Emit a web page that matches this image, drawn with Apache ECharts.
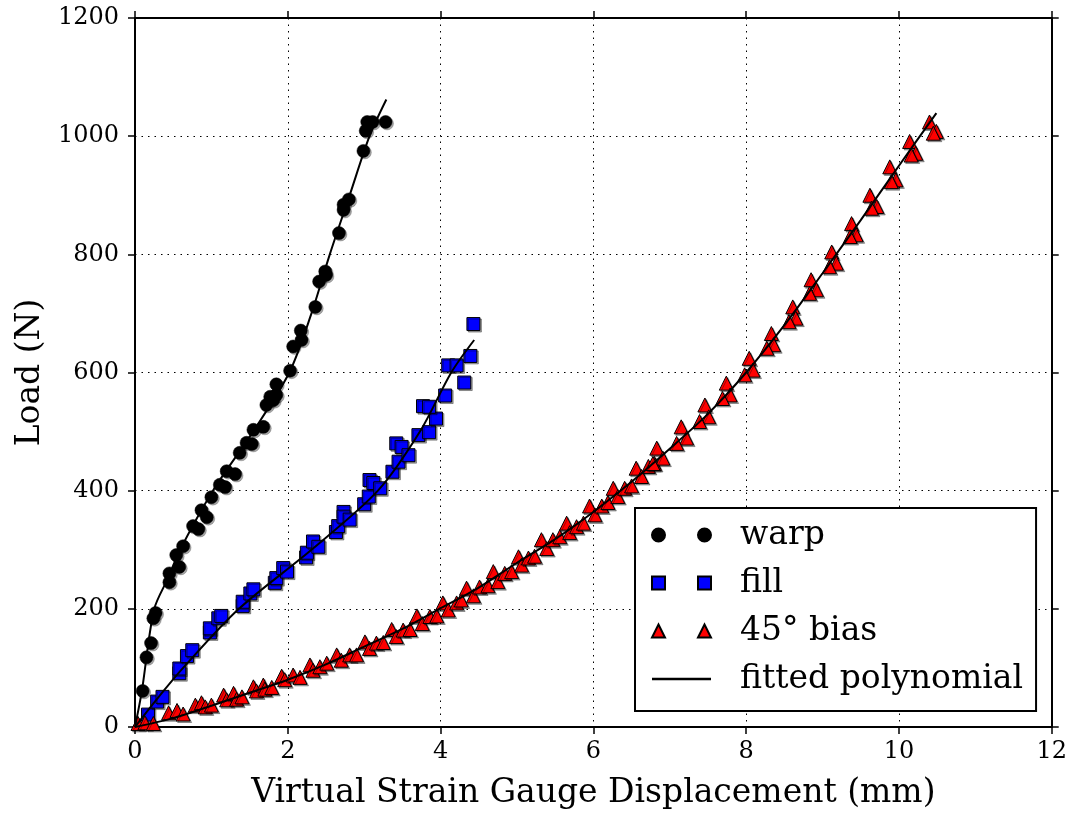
<!DOCTYPE html>
<html>
<head>
<meta charset="utf-8">
<script src="https://cdn.jsdelivr.net/npm/echarts@6/dist/echarts.min.js"></script>
<style>
html,body{margin:0;padding:0;background:#fff;}
#chart{width:1070px;height:815px;}
</style>
</head>
<body>
<div id="chart"></div>
<script>
// ---- data ----
const xTicks = [0, 2, 4, 6, 8, 10, 12];
const yTicks = [0, 200, 400, 600, 800, 1000, 1200];

const warpX = [0.10,0.15,0.21,0.24,0.27,0.45,0.45,0.58,0.54,0.63,0.76,0.83,0.87,0.94,1.00,1.11,1.18,1.20,1.31,1.37,1.46,1.53,1.55,1.68,1.72,1.81,1.77,1.85,1.85,2.03,2.07,2.18,2.17,2.36,2.41,2.49,2.50,2.67,2.73,2.73,2.80,2.99,3.02,3.04,3.11,3.28];
const warpY = [61,118,142,184,193,245,260,271,291,306,340,335,367,355,389,410,406,433,428,464,481,479,503,508,545,553,559,562,580,603,644,655,671,711,754,771,765,836,875,884,893,975,1009,1024,1024,1024];

const fillX = [0.17,0.29,0.36,0.58,0.58,0.68,0.75,0.98,0.98,1.09,1.13,1.41,1.41,1.51,1.55,1.83,1.85,1.94,1.99,2.24,2.25,2.33,2.40,2.63,2.66,2.73,2.73,2.81,3.00,3.06,3.07,3.12,3.21,3.37,3.45,3.42,3.49,3.58,3.71,3.85,3.94,3.77,3.85,4.06,4.31,4.10,4.21,4.39,4.43];
const fillY = [21,43,51,91,99,120,130,160,167,184,188,205,212,226,233,244,252,269,263,287,295,314,305,330,340,364,356,351,377,390,418,413,404,432,449,480,474,460,494,499,522,543,542,561,583,612,612,628,682];

const biasX = [0.04,0.13,0.24,0.44,0.55,0.63,0.79,0.87,0.92,1.00,1.16,1.20,1.29,1.33,1.40,1.55,1.59,1.68,1.70,1.79,1.92,1.96,2.07,2.16,2.29,2.33,2.42,2.51,2.64,2.70,2.81,2.90,3.01,3.07,3.16,3.25,3.36,3.42,3.51,3.60,3.69,3.76,3.86,3.95,4.03,4.10,4.21,4.27,4.34,4.43,4.51,4.62,4.69,4.75,4.84,4.93,5.02,5.06,5.15,5.23,5.32,5.39,5.47,5.56,5.65,5.69,5.78,5.87,5.95,6.02,6.11,6.19,6.26,6.32,6.41,6.50,6.56,6.63,6.72,6.80,6.83,6.91,6.78,7.15,7.22,7.09,7.46,7.51,7.39,7.74,7.79,7.69,8.04,8.09,7.98,8.33,8.36,8.27,8.61,8.65,8.56,8.85,8.92,8.83,9.12,9.18,9.09,9.38,9.44,9.36,9.62,9.71,9.64,9.88,9.96,9.90,10.14,10.22,10.16,10.40,10.49,10.45];
const biasY = [6,7,6,24,28,22,37,41,34,37,54,46,57,47,51,68,61,71,64,67,86,80,88,84,105,96,102,108,122,113,122,122,144,133,142,143,165,153,164,165,188,175,187,188,210,198,210,215,235,222,237,239,263,246,260,263,288,274,286,289,317,302,317,322,345,329,339,345,374,359,374,380,404,390,404,408,438,424,441,446,472,455,446,508,489,480,545,525,517,582,562,556,624,604,596,666,647,641,711,692,686,757,740,734,804,785,779,852,833,830,900,881,878,948,926,923,991,971,968,1024,1008,1005];

// fitted polynomial curves
const warpFitX = [0,0.09,0.25,0.44,0.59,1.02,1.53,2.02,2.31,2.55,2.81,3.07,3.29];
const warpFitY = [0,61,199,254,300,400,497,600,700,800,900,1000,1062];
const fillFitX = [0,0.26,0.63,1.36,2.31,3.18,3.73,4.14,4.44];
const fillFitY = [0,43,100,200,300,400,500,600,655];
const biasFitX = [0,0.5,1,1.5,2,2.5,3,3.5,4,4.5,5,5.5,6,6.5,7,7.5,8,8.5,9,9.5,10,10.49];
const biasFitY = [0,15,36,58,80,106,136,166,201,236,278,318,364,415,471,530,600,680,768,858,950,1039];

const seriesNames = ['warp', 'fill', '45° bias', 'fitted polynomial'];
const xLabel = 'Virtual Strain Gauge Displacement (mm)';
const yLabel = 'Load (N)';

// ---- build ----
const zip = (xs, ys) => xs.map((x, i) => [x, ys[i]]);
const FONT = 'DejaVu Serif';
const shadow = {shadowColor: 'rgba(0,0,0,0.35)', shadowOffsetX: 1.5, shadowOffsetY: 1.5, shadowBlur: 0};

const iconCircles = 'path://M0,6.5 A6.5,6.5 0 1,1 13,6.5 A6.5,6.5 0 1,1 0,6.5 Z M46,6.5 A6.5,6.5 0 1,1 59,6.5 A6.5,6.5 0 1,1 46,6.5 Z';
const iconSquares = 'path://M0,0 L13,0 L13,13 L0,13 Z M46,0 L59,0 L59,13 L46,13 Z';
const iconTris = 'path://M6.5,0 L13,13 L0,13 Z M52.5,0 L59,13 L46,13 Z';
const iconLine = 'path://M5,0 L52,0 L52,2 L5,2 Z';

const axisCommon = {
  type: 'value',
  axisLine: {show: true, onZero: false, lineStyle: {color: '#000', width: 2}},
  axisTick: {show: true, inside: false, length: 7, lineStyle: {color: '#000', width: 1.5}},
};
const labelStyle = {fontFamily: FONT, fontSize: 24, color: '#000', formatter: v => String(v)};
const gridLine = {show: true, lineStyle: {color: '#000', width: 1, type: [1.5, 5]}};

const option = {
  backgroundColor: '#fff',
  animation: false,
  grid: {left: 135, right: 18, top: 18, bottom: 88, containLabel: false},
  xAxis: [
    Object.assign({}, axisCommon, {
      position: 'bottom', min: xTicks[0], max: xTicks[xTicks.length - 1], interval: xTicks[1] - xTicks[0],
      axisLabel: Object.assign({margin: 13}, labelStyle),
      splitLine: gridLine,
      name: xLabel, nameLocation: 'middle', nameGap: 50,
      nameTextStyle: {fontFamily: FONT, fontSize: 33, color: '#000'}
    }),
    Object.assign({}, axisCommon, {
      position: 'top', min: xTicks[0], max: xTicks[xTicks.length - 1], interval: xTicks[1] - xTicks[0],
      axisLabel: {show: false}, splitLine: {show: false}
    })
  ],
  yAxis: [
    Object.assign({}, axisCommon, {
      position: 'left', min: yTicks[0], max: yTicks[yTicks.length - 1], interval: yTicks[1] - yTicks[0],
      axisLabel: Object.assign({margin: 16}, labelStyle),
      splitLine: gridLine,
      name: yLabel, nameLocation: 'middle', nameGap: 88, nameRotate: 90,
      nameTextStyle: {fontFamily: FONT, fontSize: 33, color: '#000'}
    }),
    Object.assign({}, axisCommon, {
      position: 'right', min: yTicks[0], max: yTicks[yTicks.length - 1], interval: yTicks[1] - yTicks[0],
      axisLabel: {show: false}, splitLine: {show: false}
    })
  ],
  legend: {
    orient: 'vertical', left: 635, top: 508,
    padding: [10, 13, 15, 16], itemGap: 14, itemWidth: 59, itemHeight: 13,
    borderColor: '#000', borderWidth: 2, backgroundColor: '#fff', borderRadius: 0,
    selectedMode: false,
    textStyle: {fontFamily: FONT, fontSize: 33, color: '#000', lineHeight: 34, padding: [0, 0, 0, 24]},
    data: [
      {name: seriesNames[0], icon: iconCircles},
      {name: seriesNames[1], icon: iconSquares},
      {name: seriesNames[2], icon: iconTris},
      {name: seriesNames[3], icon: iconLine}
    ]
  },
  series: [
    {name: seriesNames[0], type: 'scatter', symbol: 'circle', symbolSize: 13, z: 2,
     itemStyle: Object.assign({color: '#000', borderColor: '#000', borderWidth: 0.5, opacity: 1}, shadow),
     data: zip(warpX, warpY)},
    {name: seriesNames[1], type: 'scatter', symbol: 'rect', symbolSize: 13, z: 2,
     itemStyle: Object.assign({color: '#0000ff', borderColor: '#000', borderWidth: 1, opacity: 1}, shadow),
     data: zip(fillX, fillY)},
    {name: seriesNames[2], type: 'scatter', symbol: 'triangle', symbolSize: 14, z: 2,
     itemStyle: Object.assign({color: '#ff0000', borderColor: '#000', borderWidth: 1, opacity: 1}, shadow),
     data: zip(biasX, biasY)},
    {name: seriesNames[3], type: 'line', smooth: 0.3, showSymbol: false, symbol: 'none', z: 5,
     lineStyle: {color: '#000', width: 2}, itemStyle: {color: '#000'},
     data: zip(warpFitX, warpFitY)},
    {name: seriesNames[3], type: 'line', smooth: 0.3, showSymbol: false, symbol: 'none', z: 5,
     lineStyle: {color: '#000', width: 2}, itemStyle: {color: '#000'},
     data: zip(fillFitX, fillFitY)},
    {name: seriesNames[3], type: 'line', smooth: 0.3, showSymbol: false, symbol: 'none', z: 5,
     lineStyle: {color: '#000', width: 2}, itemStyle: {color: '#000'},
     data: zip(biasFitX, biasFitY)}
  ]
};

const chart = echarts.init(document.getElementById('chart'), null, {renderer: 'canvas'});
chart.setOption(option);
</script>
</body>
</html>
